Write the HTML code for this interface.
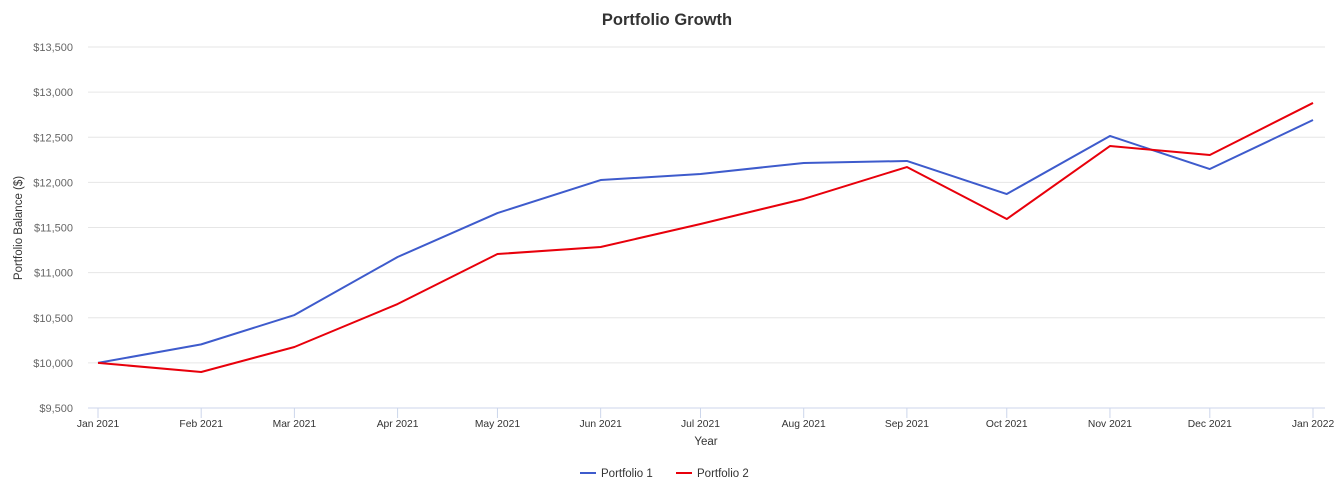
<!DOCTYPE html>
<html><head><meta charset="utf-8">
<style>
body{margin:0;background:#fff;font-family:"Liberation Sans",sans-serif;}
svg{display:block}
</style></head>
<body>
<svg id="chart" width="1335" height="485">
<text x="667" y="25" text-anchor="middle" font-size="16.5" font-weight="bold" fill="#333">Portfolio Growth</text>
<text transform="translate(22,228) rotate(-90)" text-anchor="middle" font-size="11.5" fill="#333">Portfolio Balance ($)</text>
<text x="706" y="445" text-anchor="middle" font-size="11.5" fill="#333">Year</text>
<g id="grid"></g><g id="series"></g>
<g>
<g><line x1="580" y1="473" x2="596" y2="473" stroke="#3e5bcc" stroke-width="2"/><text x="601" y="477" font-size="11.5" fill="#333">Portfolio 1</text></g>
<g><line x1="676" y1="473" x2="692" y2="473" stroke="#e8000b" stroke-width="2"/><text x="697" y="477" font-size="11.5" fill="#333">Portfolio 2</text></g>
</g>
</svg>
<script>
const categories=["2021-01-01","2021-02-01","2021-03-01","2021-04-01","2021-05-01","2021-06-01","2021-07-01","2021-08-01","2021-09-01","2021-10-01","2021-11-01","2021-12-01","2022-01-01"];
const tickLabels=["Jan 2021","Feb 2021","Mar 2021","Apr 2021","May 2021","Jun 2021","Jul 2021","Aug 2021","Sep 2021","Oct 2021","Nov 2021","Dec 2021","Jan 2022"];
const portfolio1=[10000,10205,10530,11173,11660,12026,12093,12215,12237,11871,12514,12148,12691];
const portfolio2=[10000,9899,10176,10652,11206,11284,11539,11816,12170,11594,12403,12303,12880];
const yTicks=[9500,10000,10500,11000,11500,12000,12500,13000,13500];
const NS="http://www.w3.org/2000/svg";
const t0=Date.parse(categories[0]),t1=Date.parse(categories[categories.length-1]);
const X=d=>98+(Date.parse(d)-t0)/(t1-t0)*1215;
const Y=v=>408-(v-9500)/4000*361;
const grid=document.getElementById('grid'),ser=document.getElementById('series');
function mk(tag,at,p){const e=document.createElementNS(NS,tag);for(const k in at)e.setAttribute(k,at[k]);p.appendChild(e);return e;}
yTicks.forEach(v=>{
 const l=mk('line',{x1:88,x2:1325,y1:Y(v),y2:Y(v),stroke:v===9500?'#ccd6eb':'#e6e6e6','stroke-width':1},grid);
 
 
 const t=mk('text',{x:73,y:Y(v)+4,'text-anchor':'end','font-size':11,fill:'#666'},grid);
 t.textContent='$'+v.toLocaleString('en-US');
 
 
});
categories.forEach((d,i)=>{
 const l=mk('line',{x1:X(d),x2:X(d),y1:408,y2:418,stroke:'#ccd6eb'},grid);
 
 
 const t=mk('text',{x:X(d),y:427,'text-anchor':'middle','font-size':10.3,fill:'#333'},grid);
 t.textContent=tickLabels[i];
 
 
});
[[portfolio1,'#3e5bcc','portfolio-1-line'],[portfolio2,'#e8000b','portfolio-2-line']].forEach(([vals,c,n])=>{
 const p=mk('polyline',{points:vals.map((v,i)=>X(categories[i])+','+Y(v)).join(' '),fill:'none',stroke:c,'stroke-width':2,'stroke-linejoin':'round'},ser);
 
 
});
</script>
</body></html>
